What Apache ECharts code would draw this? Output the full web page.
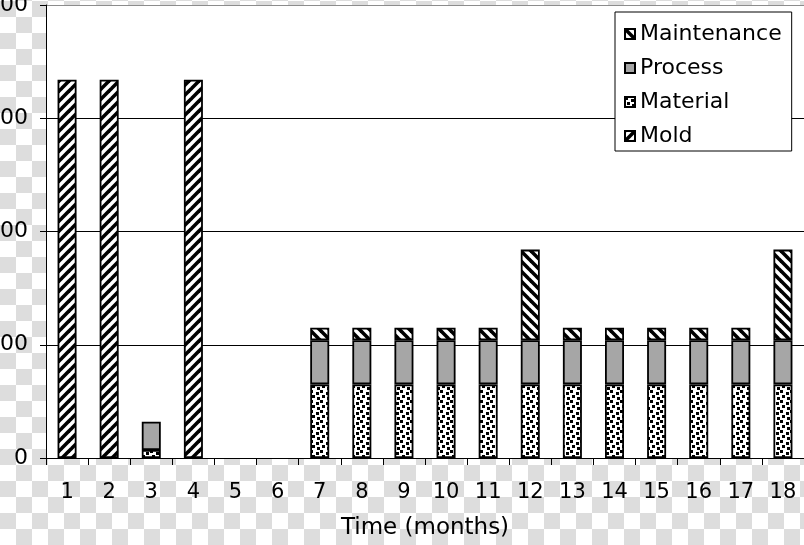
<!DOCTYPE html>
<html>
<head>
<meta charset="utf-8">
<script src="https://cdn.jsdelivr.net/npm/echarts@6/dist/echarts.min.js"></script>
<style>
html, body { margin: 0; padding: 0; }
body {
  width: 804px; height: 545px; overflow: hidden;
  background: repeating-conic-gradient(#ffffff 0 25%, #dddddd 0 50%) 0 1px / 32px 32px;
}
#chart { width: 804px; height: 545px; }
</style>
</head>
<body>
<div id="chart"></div>
<script>
// ---- data ----
var categories = ['1','2','3','4','5','6','7','8','9','10','11','12','13','14','15','16','17','18'];
var mold        = [334, 334, null, 334, null, null, null, null, null, null, null, null, null, null, null, null, null, null];
var material    = [null, null, 7, null, null, null, 65, 65, 65, 65, 65, 65, 65, 65, 65, 65, 65, 65];
var process     = [null, null, 25, null, null, null, 39, 39, 39, 39, 39, 39, 39, 39, 39, 39, 39, 39];
var maintenance = [null, null, null, null, null, null, 11, 11, 11, 11, 11, 80, 11, 11, 11, 11, 11, 80];
var yTicks = { min: 0, max: 400, interval: 100 };
var legendOrder = ['Maintenance', 'Process', 'Material', 'Mold'];

// ---- patterns ----
function stripe(dir) {
  var s = 10, c = document.createElement('canvas');
  c.width = s; c.height = s;
  var g = c.getContext('2d');
  g.fillStyle = '#fff'; g.fillRect(0, 0, s, s);
  g.strokeStyle = '#000'; g.lineWidth = 3.6;
  var segs = dir > 0
    ? [[-5, 5, 5, -5], [0, s, s, 0], [5, s + 5, s + 5, 5]]
    : [[-5, 5, 5, s + 5], [0, 0, s, s], [5, -5, s + 5, 5]];
  segs.forEach(function (p) { g.beginPath(); g.moveTo(p[0], p[1]); g.lineTo(p[2], p[3]); g.stroke(); });
  return c;
}
function confetti() {
  var s = 10, c = document.createElement('canvas');
  c.width = s; c.height = s;
  var g = c.getContext('2d');
  g.fillStyle = '#fff'; g.fillRect(0, 0, s, s);
  g.fillStyle = '#000';
  [[0, 0], [6, 2], [2, 5], [7, 7]].forEach(function (p) { g.fillRect(p[0], p[1], 3, 3); });
  return c;
}
var moldFill = { image: stripe(1), repeat: 'repeat' };
var maintFill = { image: stripe(-1), repeat: 'repeat' };
var matFill = { image: confetti(), repeat: 'repeat' };
var procFill = '#a6a6a6';

var font = 'DejaVu Sans';
function barSeries(name, data, fill) {
  return {
    name: name, type: 'bar', stack: 'total', data: data, barWidth: 19,
    itemStyle: { color: fill, borderColor: '#000', borderWidth: 1.8 }
  };
}

var chart = echarts.init(document.getElementById('chart'), null, { renderer: 'canvas' });
chart.setOption({
  backgroundColor: 'transparent',
  animation: false,
  grid: { left: 46, right: 0, top: 5, bottom: 87, show: true, backgroundColor: '#fff', borderWidth: 0,
          containLabel: false, outerBoundsMode: 'none' },
  legend: {
    data: legendOrder,
    orient: 'vertical',
    left: 615, top: 12,
    backgroundColor: '#fff', borderColor: '#000', borderWidth: 1,
    padding: [11, 10, 4, 9],
    itemWidth: 10, itemHeight: 10, itemGap: 12, itemTextGap: 14,
    icon: 'rect',
    textStyle: { fontFamily: font, fontSize: 22, color: '#000', lineHeight: 20 }
  },
  xAxis: {
    type: 'category', data: categories,
    name: 'Time (months)', nameLocation: 'middle', nameGap: 59,
    nameTextStyle: { fontFamily: font, fontSize: 23, color: '#000' },
    axisLine: { lineStyle: { color: '#000', width: 1 } },
    axisTick: { show: true, length: 7, lineStyle: { color: '#000' } },
    axisLabel: { fontFamily: font, fontSize: 21, color: '#000', margin: 24 }
  },
  yAxis: {
    type: 'value', min: yTicks.min, max: yTicks.max, interval: yTicks.interval,
    axisLine: { show: true, lineStyle: { color: '#000', width: 1 } },
    axisTick: { show: true, length: 6, lineStyle: { color: '#000' } },
    axisLabel: { fontFamily: font, fontSize: 22, color: '#000', margin: 18 },
    splitLine: { show: true, lineStyle: { color: ['#000', '#000', '#000', '#000', '#8c8c8c'], width: 1 } }
  },
  series: [
    barSeries('Mold', mold, moldFill),
    barSeries('Material', material, matFill),
    barSeries('Process', process, procFill),
    barSeries('Maintenance', maintenance, maintFill)
  ]
});
</script>
</body>
</html>
